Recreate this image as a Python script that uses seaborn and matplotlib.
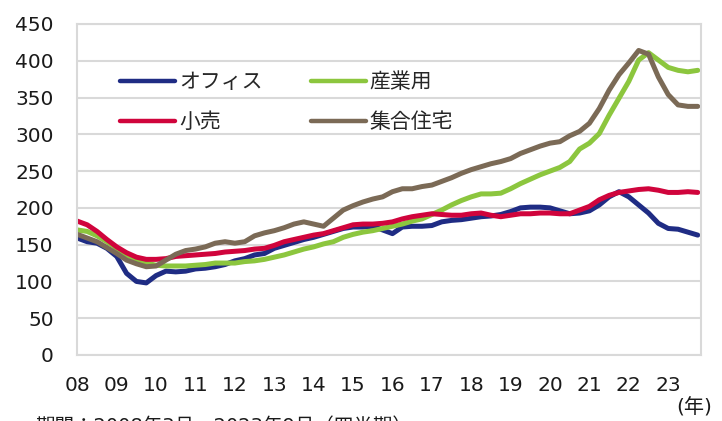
import numpy as np
import pandas as pd
import matplotlib
matplotlib.use("Agg")
import matplotlib.pyplot as plt
import seaborn as sns

# quarterly index values, 2008Q1 .. 2023Q4
office = [159, 154, 152, 145, 134, 111, 100, 98, 108, 114, 113, 114, 117, 118, 120, 123,
          128, 131, 136, 138, 145, 149, 153, 157, 160, 164, 168, 172, 174, 174, 175, 170,
          165, 174, 175, 175, 176, 181, 183, 184, 186, 188, 189, 191, 195, 200, 201, 201,
          200, 196, 192, 193, 196, 204, 215, 222, 215, 204, 193, 179, 172, 171, 167, 163]
industrial = [170, 168, 162, 154, 145, 136, 129, 125, 122, 121, 121, 121, 122, 123, 125, 125,
              125, 127, 128, 130, 133, 136, 140, 144, 147, 151, 154, 160, 164, 167, 169, 172,
              175, 178, 182, 185, 191, 197, 204, 210, 215, 219, 219, 220, 226, 233, 239, 245,
              250, 255, 263, 280, 288, 301, 326, 349, 372, 401, 411, 401, 391, 387, 385, 387]
retail = [182, 177, 168, 157, 147, 139, 133, 130, 130, 131, 134, 135, 136, 137, 138, 140,
          141, 142, 144, 145, 149, 154, 157, 160, 163, 165, 169, 173, 177, 178, 178, 179,
          181, 185, 188, 190, 192, 191, 190, 190, 192, 193, 190, 188, 190, 192, 192, 193,
          193, 192, 192, 197, 202, 211, 217, 221, 223, 225, 226, 224, 221, 221, 222, 221]
residential = [164, 159, 154, 146, 138, 129, 124, 120, 121, 129, 137, 142, 144, 147, 152, 154,
               152, 154, 162, 166, 169, 173, 178, 181, 178, 175, 186, 197, 203, 208, 212, 215,
               222, 226, 226, 229, 231, 236, 241, 247, 252, 256, 260, 263, 267, 274, 279, 284,
               288, 290, 298, 304, 315, 335, 360, 381, 397, 414, 409, 378, 354, 340, 338, 338]

series_names = ["オフィス", "産業用", "小売", "集合住宅"]
series_colors = ["#1f2c84", "#8cc63e", "#d0043c", "#7b6a56"]
year_labels = ["08", "09", "10", "11", "12", "13", "14", "15",
               "16", "17", "18", "19", "20", "21", "22", "23"]
y_ticks = [0, 50, 100, 150, 200, 250, 300, 350, 400, 450]

quarters = np.arange(len(office))
df = pd.DataFrame({
    "q": np.tile(quarters, 4),
    "value": office + industrial + retail + residential,
    "series": np.repeat(series_names, len(office)),
})

sns.set_style("white")
plt.rcParams["font.family"] = ["DejaVu Sans", "Noto Sans CJK JP"]

fig = plt.figure(figsize=(7.22, 4.21), dpi=100)
ax = fig.add_axes([0.1071, 0.1568, 0.8634, 0.7862])

sns.lineplot(data=df, x="q", y="value", hue="series", hue_order=series_names,
             palette=dict(zip(series_names, series_colors)), linewidth=3.6,
             legend=False, ax=ax)

grid_c = "#d9d9d9"
ax.set_xlim(0, 63.3)
ax.set_ylim(0, 450)
ax.set_yticks(y_ticks)
ax.set_yticklabels([str(v) for v in y_ticks])
ax.set_xticks(np.arange(0, 64, 4))
ax.set_xticklabels(year_labels)
ax.set_xlabel("")
ax.set_ylabel("")
ax.yaxis.grid(True, color=grid_c, linewidth=1.5)
ax.set_axisbelow(True)
for s in ax.spines.values():
    s.set_color(grid_c)
    s.set_linewidth(1.5)
ax.tick_params(axis="both", length=5, width=1.5, color=grid_c, labelsize=14.5,
               labelcolor="#1a1a1a")
ax.tick_params(axis="y", pad=12)
ax.tick_params(axis="x", pad=10)

# legend: Office / Retail in the first column, Industrial / Residential in the second
lines = ax.get_lines()
order = [0, 2, 1, 3]
leg = ax.legend([lines[i] for i in order], [series_names[i] for i in order],
                ncol=2, frameon=False, loc="upper left", bbox_to_anchor=(0.0685, 0.855),
                borderpad=0, borderaxespad=0, fontsize=15, handlelength=2.64,
                handletextpad=0.2, columnspacing=2.3, labelspacing=0.98)
for h in leg.legend_handles:
    h.set_linewidth(3.2)

fig.text(712 / 722, 1 - 408 / 421, "(年)", ha="right", va="center",
         fontsize=14.5, color="#1a1a1a")
# footnote sits mostly below the canvas, as in the source image
fig.text(35 / 722, 1 - 417 / 421, "期間：2008年3月～2023年9月（四半期）",
         ha="left", va="top", fontsize=14, color="#1a1a1a")

fig.savefig("out.png", dpi=100)
